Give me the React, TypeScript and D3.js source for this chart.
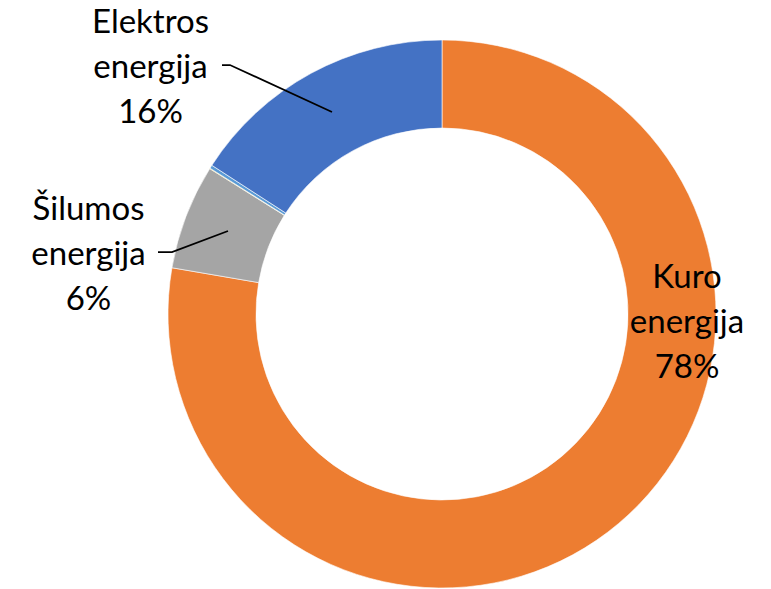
import React from "react";
import * as d3 from "d3";

const categories = ["Kuro energija", "Šilumos energija", "Kita 1", "Kita 2", "Elektros energija"];
const values = [77.7, 6.2, 0.03, 0.2, 15.87];
const colors = ["#ED7D31", "#A5A5A5", "#FFC000", "#5B9BD5", "#4472C4"];
const labelLines = [["Kuro", "energija", "78%"], ["Šilumos", "energija", "6%"], [], [], ["Elektros", "energija", "16%"]];
const labelPos = [
  { x: 687, y: 288 },
  { x: 88.5, y: 220 },
  null,
  null,
  { x: 150.5, y: 33 },
];
const leaders = [
  null,
  [[158, 252], [172, 252], [228, 231]],
  null,
  null,
  [[222, 65], [230, 65], [332, 112]],
];

const W = 771;
const H = 589;
const cx = 442;
const cy = 314;
const outerR = 274;
const innerR = 186;

export default function App() {
  const pie = d3.pie<number>().sort(null).value((d) => d)(values);
  const arc = d3.arc<d3.PieArcDatum<number>>().innerRadius(innerR).outerRadius(outerR);
  const line = d3.line();
  return (
    <svg
      width={W}
      height={H}
      style={{ position: "absolute", left: 0, top: 0, background: "#fff" }}
    >
      <g transform={`translate(${cx},${cy})`}>
        {pie.map((p, i) => (
          <path key={categories[i]} d={arc(p) || ""} fill={colors[i]} stroke="#fff" strokeWidth={0.6} />
        ))}
      </g>
      {leaders.map((l, i) =>
        l ? <path key={"l" + i} d={line(l as [number, number][]) || ""} fill="none" stroke="#000" strokeWidth={1.75} /> : null
      )}
      {labelLines.map((lines, i) =>
        labelPos[i] ? (
          <text
            key={"t" + i}
            x={labelPos[i]!.x}
            y={labelPos[i]!.y}
            textAnchor="middle"
            fontFamily="Lato, 'Open Sans', sans-serif"
            fontSize={33}
            fill="#000"
          >
            {lines.map((s, j) => (
              <tspan key={j} x={labelPos[i]!.x} y={labelPos[i]!.y + j * 45}>
                {s}
              </tspan>
            ))}
          </text>
        ) : null
      )}
    </svg>
  );
}
